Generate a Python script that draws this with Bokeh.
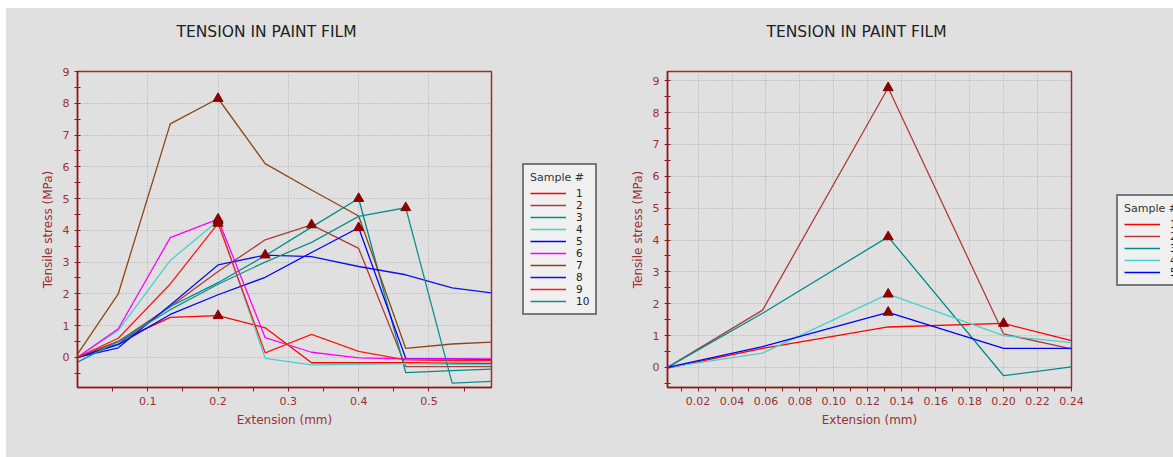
from bokeh.plotting import figure
from bokeh.models import Range1d, FixedTicker, Legend, LegendItem, PrintfTickFormatter
from bokeh.layouts import row
from bokeh.embed import file_html
from bokeh.resources import INLINE

# ---------------- data: left chart (10 samples) ----------------
x_left = [0.0, 0.058, 0.132, 0.2, 0.267, 0.333, 0.4, 0.467, 0.533, 0.589]
left_s1 = [0.0, 0.5, 1.26, 1.31, 0.93, -0.17, -0.17, -0.17, -0.18, -0.19]
left_s2 = [0.0, 0.5, 1.6, 2.7, 3.7, 4.17, 3.43, -0.29, -0.29, -0.29]
left_s3 = [0.0, 0.42, 1.6, 2.35, 3.2, 4.1, 5.0, -0.48, -0.42, -0.37]
left_s4 = [0.0, 0.85, 3.05, 4.3, -0.03, -0.24, -0.22, -0.2, -0.22, -0.23]
left_s5 = [0.0, 0.4, 1.35, 1.97, 2.52, 3.3, 4.08, -0.03, -0.05, -0.07]
left_s6 = [0.0, 0.9, 3.77, 4.35, 0.62, 0.16, -0.02, -0.05, -0.05, -0.05]
left_s7 = [0.1, 2.0, 7.35, 8.15, 6.1, 5.27, 4.45, 0.28, 0.42, 0.48]
left_s8 = [0.0, 0.3, 1.65, 2.91, 3.22, 3.17, 2.86, 2.6, 2.19, 2.03]
left_s9 = [0.0, 0.6, 2.31, 4.22, 0.14, 0.72, 0.19, -0.08, -0.1, -0.1]
left_s10 = [-0.15, 0.5, 1.5, 2.3, 3.0, 3.62, 4.44, 4.71, -0.81, -0.76]
left_series = [left_s1, left_s2, left_s3, left_s4, left_s5,
               left_s6, left_s7, left_s8, left_s9, left_s10]

# ---------------- data: right chart (5 samples) ----------------
x_right = [0.002, 0.058, 0.132, 0.2, 0.24]
right_s1 = [-0.02, 0.6, 1.27, 1.38, 0.84]
right_s2 = [0.0, 1.8, 8.78, 1.05, 0.58]
right_s3 = [0.0, 1.7, 4.1, -0.26, 0.02]
right_s4 = [0.0, 0.45, 2.3, 1.0, 0.78]
right_s5 = [0.0, 0.65, 1.73, 0.6, 0.6]
right_series = [right_s1, right_s2, right_s3, right_s4, right_s5]

sample_labels = ["1", "2", "3", "4", "5", "6", "7", "8", "9", "10"]
colors = ["#ff0000", "#b03a3a", "#008b8b", "#48d1cc", "#0000ff",
          "#ff00ff", "#8b4513", "#1010ee", "#ff1a1a", "#119090"]

left_xticks = [0.1, 0.2, 0.3, 0.4, 0.5]
left_xminor = [0.05, 0.15, 0.25, 0.35, 0.45, 0.55]
left_yticks = [0, 1, 2, 3, 4, 5, 6, 7, 8, 9]
left_yminor = [-0.5, 0.5, 1.5, 2.5, 3.5, 4.5, 5.5, 6.5, 7.5, 8.5]
right_xticks = [0.02, 0.04, 0.06, 0.08, 0.10, 0.12, 0.14, 0.16, 0.18, 0.20, 0.22, 0.24]
right_xminor = [0.01, 0.03, 0.05, 0.07, 0.09, 0.11, 0.13, 0.15, 0.17, 0.19, 0.21, 0.23]
right_yticks = [0, 1, 2, 3, 4, 5, 6, 7, 8, 9]
right_yminor = [-0.5, 0.5, 1.5, 2.5, 3.5, 4.5, 5.5, 6.5, 7.5, 8.5, 9.5]

BG = "#e0e0e0"
AXIS_COL = "#8b1a1a"
TEXT_COL = "#9b3030"
FONT = "DejaVu Sans"
H = 449


def make_fig(width, bl, br, xr, yr, xt, xm, yt, ym, xfmt):
    p = figure(width=width, height=H,
               min_border_left=bl, min_border_right=br,
               min_border_top=63, min_border_bottom=70,
               x_range=Range1d(*xr), y_range=Range1d(*yr),
               output_backend="svg", toolbar_location=None,
               title="TENSION IN PAINT FILM")
    p.background_fill_color = BG
    p.border_fill_color = BG
    p.outline_line_color = "#a52a2a"
    p.outline_line_width = 1.5
    p.title.align = "left"
    p.title.offset = 99
    p.title.text_font = FONT
    p.title.text_font_size = "15.5px"
    p.title.text_font_style = "normal"
    p.title.text_color = "#222222"
    p.title.standoff = 10
    p.title.padding = dict(left=0, right=0, top=0, bottom=26)
    p.xaxis.ticker = FixedTicker(ticks=xt, minor_ticks=xm)
    p.yaxis.ticker = FixedTicker(ticks=yt, minor_ticks=ym)
    p.xaxis.formatter = PrintfTickFormatter(format=xfmt)
    for ax in (p.xaxis, p.yaxis):
        ax.axis_line_color = AXIS_COL
        ax.axis_line_width = 1.5
        ax.major_tick_line_color = AXIS_COL
        ax.minor_tick_line_color = AXIS_COL
        ax.major_label_text_color = TEXT_COL
        ax.major_label_text_font = FONT
        ax.major_label_text_font_size = "11px"
        ax.axis_label_text_color = TEXT_COL
        ax.axis_label_text_font = FONT
        ax.axis_label_text_font_size = "12px"
        ax.axis_label_text_font_style = "normal"
    p.xaxis.major_tick_in = 0
    p.xaxis.major_tick_out = 4
    p.xaxis.minor_tick_in = 0
    p.xaxis.minor_tick_out = 4
    p.yaxis.major_tick_in = 3
    p.yaxis.major_tick_out = 3
    p.yaxis.minor_tick_in = 3
    p.yaxis.minor_tick_out = 3
    p.xaxis.axis_label = "Extension (mm)"
    p.yaxis.axis_label = "Tensile stress (MPa)"
    for g in (p.xgrid, p.ygrid):
        g.grid_line_color = "#ababab"
        g.grid_line_dash = "1 2"
        g.grid_line_width = 1
    return p


def add_series(p, xs, series):
    tx, ty = [], []
    for i, ys in enumerate(series):
        p.line(xs, ys, line_color=colors[i], line_width=1.3)
        m = max(ys)
        j = ys.index(m)
        tx.append(xs[j])
        ty.append(m)
    p.scatter(tx, ty, marker="triangle", size=10, fill_color="#8b0000",
              line_color="#8b0000")


def make_legend_fig(width, xs, series, loc):
    # a small borderless canvas that only carries the legend box
    lp = figure(width=width, height=H, min_border=0,
                x_axis_type=None, y_axis_type=None,
                x_range=Range1d(10, 11), y_range=Range1d(10, 11),
                output_backend="svg", toolbar_location=None)
    lp.background_fill_color = BG
    lp.border_fill_color = BG
    lp.outline_line_color = None
    items = []
    for i, ys in enumerate(series):
        r = lp.line(xs, ys, line_color=colors[i], line_width=1.3)
        items.append(LegendItem(label=sample_labels[i], renderers=[r]))
    leg = Legend(items=items, location=loc, title="Sample #",
                 border_line_color="black", border_line_width=2.5,
                 background_fill_color="#f0f0f0", background_fill_alpha=1,
                 label_text_font=FONT, label_text_font_size="10.5px",
                 title_text_font=FONT, title_text_font_size="11px",
                 title_text_font_style="normal", title_text_color="#333333",
                 title_standoff=3,
                 label_text_color="#222222",
                 glyph_width=36, glyph_height=10, label_height=10,
                 label_width=10, label_standoff=10, spacing=0,
                 padding=6, margin=0)
    lp.add_layout(leg, "center")
    return lp


p1 = make_fig(513, 71, 28, (0.0, 0.589), (-0.95, 9.0),
              left_xticks, left_xminor, left_yticks, left_yminor, "%.1f")
add_series(p1, x_left, left_series)
l1 = make_legend_fig(81, x_left, left_series, (3, 72))

p2 = make_fig(513, 67, 42, (0.002, 0.24), (-0.63, 9.29),
              right_xticks, right_xminor, right_yticks, right_yminor, "%.2f")
add_series(p2, x_right, right_series)
l2 = make_legend_fig(60, x_right, right_series, (3, 101))

layout = row(p1, l1, p2, l2, margin=(8, 0, 0, 6), spacing=0,
             styles={"background-color": BG})
open("out.html", "w").write(file_html(layout, INLINE))
